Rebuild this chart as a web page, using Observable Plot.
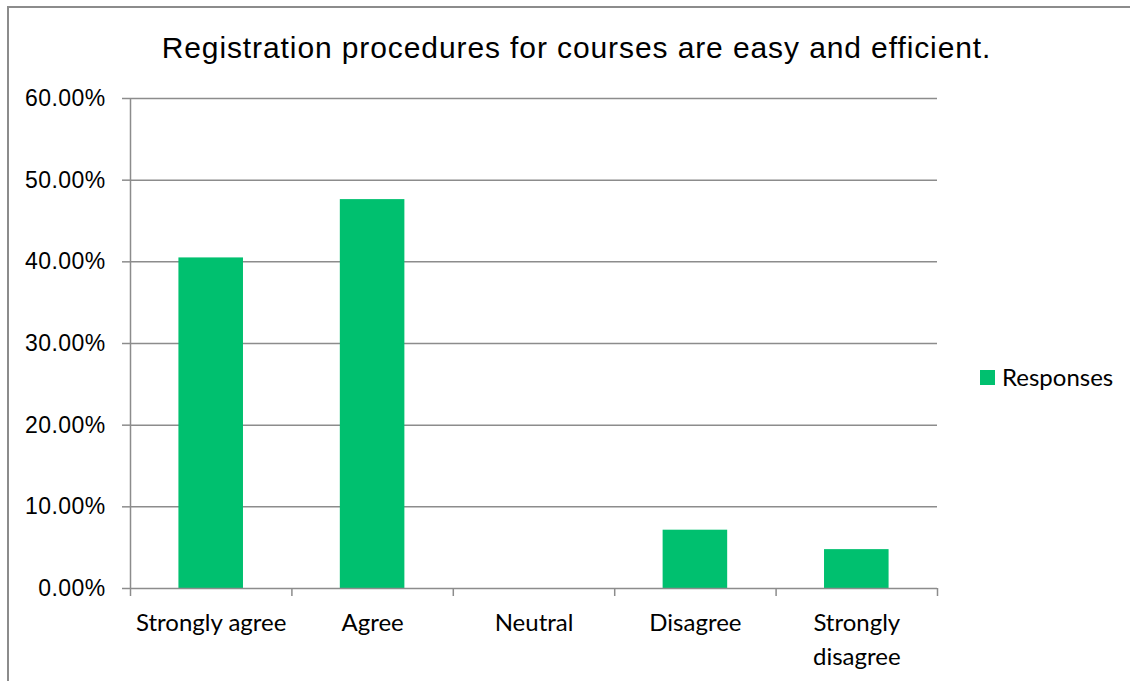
<!DOCTYPE html>
<html><head><meta charset="utf-8">
<script src="https://cdn.jsdelivr.net/npm/d3@7"></script>
<script src="https://cdn.jsdelivr.net/npm/@observablehq/plot@0.6"></script>
<style>
body{margin:0;background:#fff;}
#wrap{position:relative;width:1130px;height:681px;overflow:hidden;background:#fff;}
#frame{position:absolute;left:7px;top:6px;width:1200px;height:800px;border-left:2px solid #8c8c8c;border-top:2px solid #8c8c8c;}
#title{position:absolute;left:0;width:1153px;top:33px;text-align:center;font-family:"Liberation Sans",Arial,sans-serif;font-size:30px;line-height:30px;letter-spacing:0.9px;color:#000;white-space:nowrap;}
#chart{position:absolute;left:0;top:0;}
#legend{position:absolute;left:980px;top:365px;font-family:Lato,sans-serif;font-size:24px;line-height:24px;display:flex;align-items:center;color:#000;}
#legend .sw{display:inline-block;width:15px;height:15px;margin-right:7px;}
g[aria-label="y-axis tick label"] text{letter-spacing:0.4px;}
</style></head><body>
<div id="wrap"><div id="frame"></div><div id="title"></div><div id="chart"></div><div id="legend"><span class="sw"></span><span class="lt"></span></div></div>
<script>
const categories = ["Strongly agree", "Agree", "Neutral", "Disagree", "Strongly disagree"];
const categoryLabels = ["Strongly agree", "Agree", "Neutral", "Disagree", "Strongly\ndisagree"];
const responses = [0.4048, 0.4762, 0, 0.0714, 0.0476];
const yTicks = [0, 0.1, 0.2, 0.3, 0.4, 0.5, 0.6];
const seriesName = "Responses";
const titleText = "Registration procedures for courses are easy and efficient.";
const barColor = "#00c06f";
const gridColor = "#8c8c8c";

document.getElementById("title").textContent = titleText;
document.querySelector("#legend .lt").textContent = seriesName;
document.querySelector("#legend .sw").style.background = barColor;

const data = categories.map((c, i) => ({category: c, label: categoryLabels[i], index: i, value: responses[i]}));

const chart = Plot.plot({
  width: 1130, height: 681,
  marginTop: 98, marginBottom: 93, marginLeft: 130, marginRight: 193,
  style: {background: "transparent", color: "#000"},
  x: {type: "linear", domain: [0, categories.length], axis: null},
  y: {domain: [0, 0.6], axis: null},
  marks: [
    Plot.ruleY(yTicks.slice(1), {stroke: gridColor, strokeWidth: 1.5}),
    Plot.rectY(data, {x1: d => d.index + 0.3, x2: d => d.index + 0.7, y: "value", fill: barColor}),
    Plot.ruleX([0], {stroke: gridColor, strokeWidth: 1.5}),
    Plot.ruleY([0], {stroke: gridColor, strokeWidth: 1.5}),
    Plot.axisY({ticks: yTicks, tickFormat: d => (d * 100).toFixed(2) + "%", tickSize: 8, tickPadding: 17, label: null,
      stroke: gridColor, strokeWidth: 1.5, strokeOpacity: 1, fontSize: 23, fontFamily: "Liberation Sans", fill: "#000"}),
    Plot.axisX({ticks: d3.range(categories.length + 1), tickFormat: () => "", tickSize: 8, label: null,
      stroke: gridColor, strokeWidth: 1.5, strokeOpacity: 1}),
    Plot.text(data, {x: d => d.index + 0.5, y: 0, text: "label", dy: 19, lineAnchor: "top",
      fontSize: 24, fontFamily: "Lato", lineHeight: 1.4, fill: "#000"})
  ]
});
document.getElementById("chart").appendChild(chart);
</script>
</body></html>
